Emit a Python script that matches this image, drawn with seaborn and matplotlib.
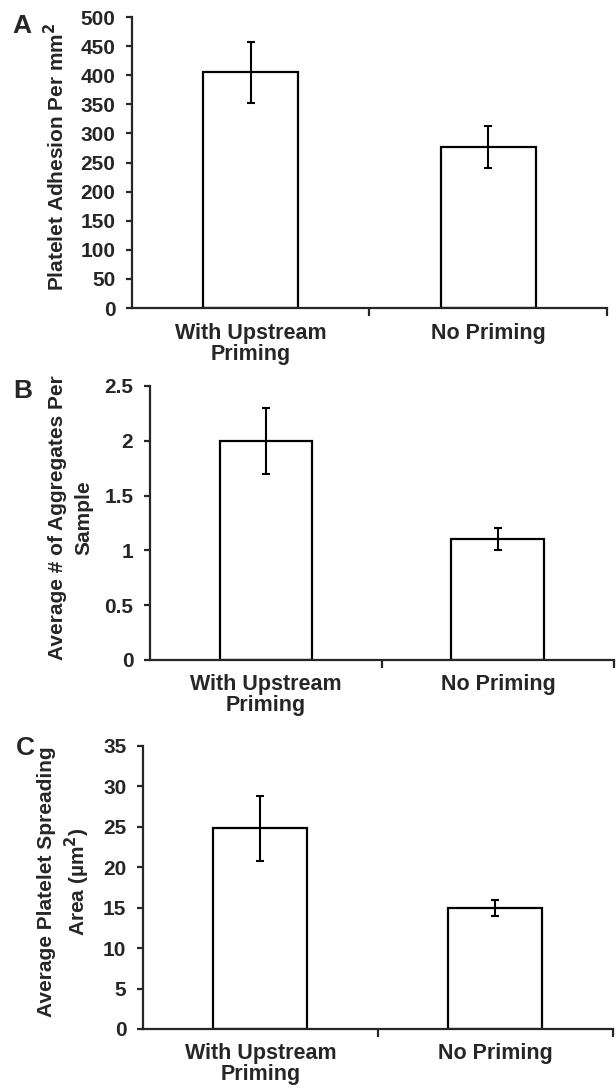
import matplotlib
matplotlib.use("Agg")
import matplotlib.pyplot as plt
import seaborn as sns
import pandas as pd

# ── Data ─────────────────────────────────────────────────────────────────────
groups = ["With Upstream\nPriming", "No Priming"]

adhesion_mean = [405, 277]
adhesion_err = [52, 36]

aggregates_mean = [2.0, 1.1]
aggregates_err = [0.3, 0.1]

spreading_mean = [24.8, 15.0]
spreading_err = [4.0, 1.0]

# ── Style ────────────────────────────────────────────────────────────────────
sns.set_theme(style="ticks")
plt.rcParams["font.family"] = ["Liberation Sans", "DejaVu Sans"]
plt.rcParams["font.weight"] = "bold"
plt.rcParams["axes.linewidth"] = 1.6

fig = plt.figure(figsize=(6.16, 10.9), dpi=100)

panels = [
    # letter, mean, err, ylabel, ymax, yticks, axes rect, letter pos, label x, linespacing
    ("A", adhesion_mean, adhesion_err, "Platelet Adhesion Per mm$^\\mathbf{2}$",
     500, list(range(0, 501, 50)), [0.2143, 0.7174, 0.771, 0.267], (0.020, 0.987), -0.135, 1.2),
    ("B", aggregates_mean, aggregates_err, "Average # of Aggregates Per\nSample",
     2.5, [0, 0.5, 1, 1.5, 2, 2.5], [0.2435, 0.3945, 0.753, 0.2514], (0.022, 0.652), -0.123, 1.45),
    ("C", spreading_mean, spreading_err, "Average Platelet Spreading\nArea (µm$^\\mathbf{2}$)",
     35, list(range(0, 36, 5)), [0.2321, 0.056, 0.763, 0.2596], (0.025, 0.325), -0.108, 1.3),
]

for letter, mean, err, ylabel, ymax, yticks, rect, lpos, lab_x, lsp in panels:
    ax = fig.add_axes(rect)
    df = pd.DataFrame({"group": groups, "value": mean})
    sns.barplot(data=df, x="group", y="value", ax=ax, color="white",
                edgecolor="black", linewidth=1.6, width=0.4, errorbar=None)
    ax.errorbar(range(len(groups)), mean, yerr=err, fmt="none",
                ecolor="black", elinewidth=1.5, capsize=3, capthick=1.5)
    ax.set_xlim(-0.5, 1.5)
    ax.set_ylim(0, ymax)
    ax.set_yticks(yticks)
    ax.set_yticklabels([f"{t:g}" for t in yticks], fontsize=15, fontweight="bold")
    ax.set_xticks([0.5, 1.5])
    ax.set_xticklabels([])
    ax.tick_params(axis="x", direction="out", length=6, width=1.6)
    ax.tick_params(axis="y", direction="out", length=4, width=1.6, pad=8)
    for i, g in enumerate(groups):
        ax.text(i, -0.05, g, transform=ax.get_xaxis_transform(), ha="center",
                va="top", fontsize=15.5, fontweight="bold", linespacing=1.0)
    ax.set_xlabel("")
    ax.set_ylabel(ylabel, fontsize=15, fontweight="bold", linespacing=lsp)
    ax.yaxis.set_label_coords(lab_x, 0.52)
    sns.despine(ax=ax, top=True, right=True)
    fig.text(lpos[0], lpos[1], letter, fontsize=19, fontweight="bold",
             ha="left", va="top")

fig.savefig("out.png", dpi=100)
